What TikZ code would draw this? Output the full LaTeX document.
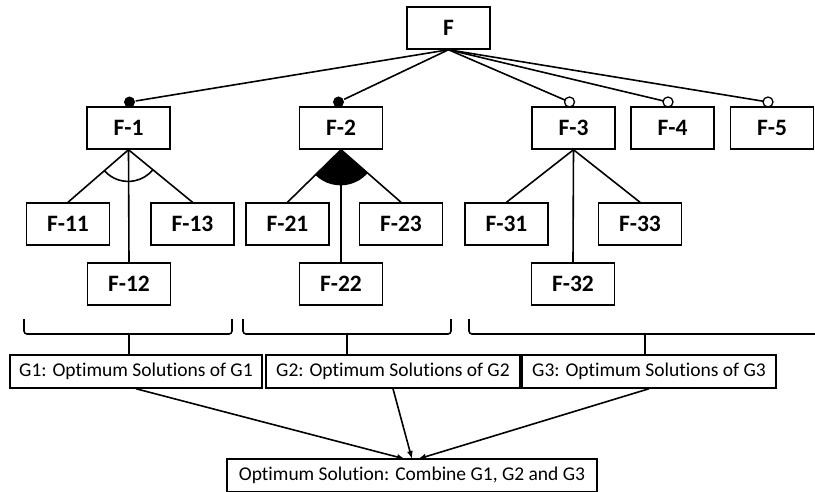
\documentclass[tikz,border=0pt]{standalone}
\usepackage{fontspec}
\setmainfont{Carlito}[Ligatures=NoCommon]
\usetikzlibrary{calc,arrows.meta}
\begin{document}
\begin{tikzpicture}[x=1pt,y=-1pt,line width=1.5pt,
  fbox/.style={draw,minimum width=83pt,minimum height=42pt,inner sep=0pt,font=\fontsize{23.5}{26}\selectfont\bfseries},
  gbox/.style={draw,minimum height=33pt,inner sep=0pt,font=\fontsize{19.5}{22}\selectfont},
  fdot/.style={circle,fill=black,inner sep=0pt,minimum size=11pt},
  odot/.style={circle,draw,fill=white,line width=1.3pt,inner sep=0pt,minimum size=10pt},
  conn/.style={line width=1.6pt},
  arr/.style={line width=1.6pt,-{Latex[length=8pt,width=6pt]}}]
\useasboundingbox (0,0) rectangle (815,492);
% top
\node[fbox] (F) at (448.5,28) {F};
\node[fbox] (F1) at (128.5,128) {F-1};
\node[fbox] (F2) at (341,128) {F-2};
\node[fbox] (F3) at (573.5,128) {F-3};
\node[fbox] (F4) at (672.5,128) {F-4};
\node[fbox] (F5) at (772,128) {F-5};
% row 2
\node[fbox] (F11) at (68,224) {F-11};
\node[fbox] (F13) at (192.5,224) {F-13};
\node[fbox] (F21) at (287.5,224) {F-21};
\node[fbox] (F23) at (401,224) {F-23};
\node[fbox] (F31) at (506.5,224) {F-31};
\node[fbox] (F33) at (640,224) {F-33};
% row 3
\node[fbox] (F12) at (129,284) {F-12};
\node[fbox] (F22) at (341,284) {F-22};
\node[fbox] (F32) at (573,284) {F-32};
% dots
\node[fdot] (d1) at (129.5,102) {};
\node[fdot] (d2) at (338.5,102) {};
\coordinate (d3) at (569.5,102);
\coordinate (d4) at (668,102);
\coordinate (d5) at (768,102);
\foreach \d in {d1,d2,d3,d4,d5} \draw[conn] (F.south) -- (\d);
\node[odot] (o3) at (d3) {};
\node[odot] (o4) at (d4) {};
\node[odot] (o5) at (d5) {};
% children links
\foreach \c in {F11,F12,F13} \draw[conn] (F1.south) -- (\c.north);
\foreach \c in {F21,F22,F23} \draw[conn] (F2.south) -- (\c.north);
\foreach \c in {F31,F32,F33} \draw[conn] (F3.south) -- (\c.north);
% and-arc (F-1)
\draw[conn] ($(F1.south)!32pt!(F11.north)$) arc[start angle=221.75,end angle=319.84,radius=32pt];
% filled sector (F-2)
\fill (F2.south) -- ($(F2.south)!36pt!(F21.north)$) arc[start angle=225.3,end angle=318.0,radius=36pt] -- cycle;
% group boxes
\node[gbox,minimum width=252pt] (G1) at (136,371.5) {G1: Optimum Solutions of G1};
\node[gbox,minimum width=254pt] (G2) at (393,371.5) {G2: Optimum Solutions of G2};
\node[gbox,minimum width=254pt] (G3) at (649,371.5) {G3: Optimum Solutions of G3};
\node[gbox,minimum width=370pt] (OS) at (412,475.5) {Optimum Solution: Combine G1, G2 and G3};
% brackets
\draw[conn,rounded corners=3pt] (24,319) -- (24,334) -- (232,334) -- (232,319);
\draw[conn] (129,334) -- (129,355);
\draw[conn,rounded corners=3pt] (243,319) -- (243,334) -- (451,334) -- (451,319);
\draw[conn] (347,334) -- (347,355);
\draw[conn,rounded corners=3pt] (469,319) -- (469,334) -- (820,334);
\draw[conn] (645,334) -- (645,355);
% arrows
\coordinate (e1) at (405,459);
\coordinate (e2) at (412,459);
\coordinate (e3) at (418,459);
\draw[arr] (G1.south) -- (e1);
\draw[arr] (G2.south) -- (e2);
\draw[arr] (G3.south) -- (e3);
\end{tikzpicture}
\end{document}
